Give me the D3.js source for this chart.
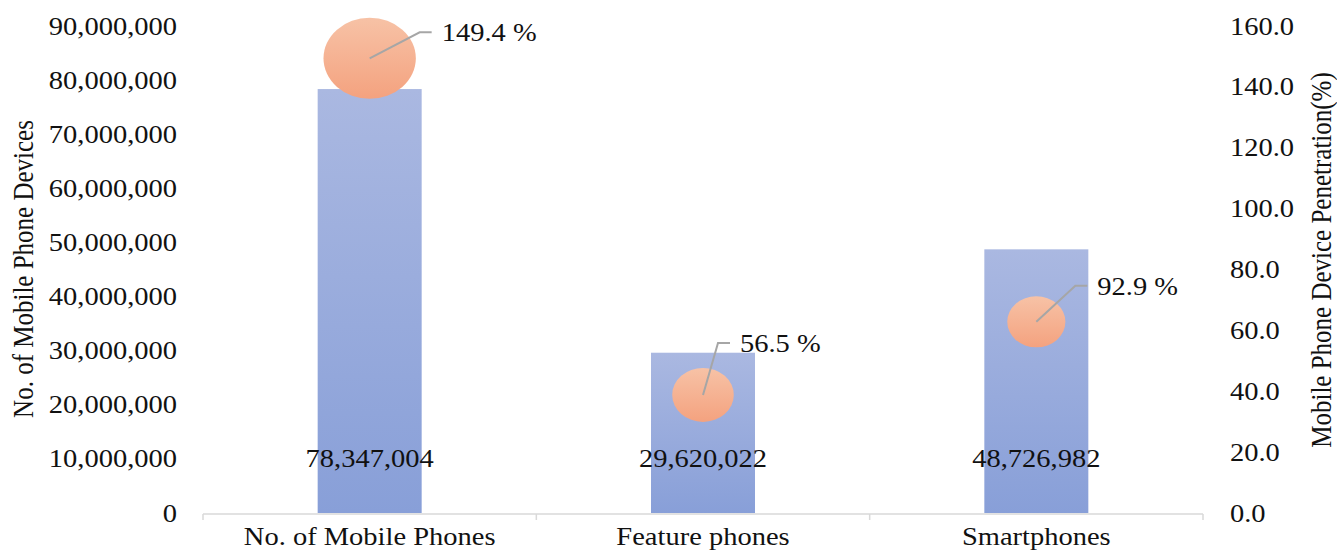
<!DOCTYPE html>
<html>
<head>
<meta charset="utf-8">
<script src="https://cdn.jsdelivr.net/npm/d3@7"></script>
<style>
  html, body { margin: 0; padding: 0; background: #fff; }
  svg { display: block; }
  text { font-family: "Liberation Serif", "Times New Roman", serif; fill: #111; }
</style>
</head>
<body>
<svg id="chart" width="1337" height="552"></svg>
<script>
// ---- data ----
const categories = ["No. of Mobile Phones", "Feature phones", "Smartphones"];
const deviceCounts = [78347004, 29620022, 48726982];
const penetrationLabels = [149.4, 56.5, 92.9];
const bubbleY = [149.4, 38.8, 62.8];          // bubble position on the right axis
const bubbleSize = [149.4, 66.4, 59.2];       // relative bubble size
const leftTicks = [0, 10e6, 20e6, 30e6, 40e6, 50e6, 60e6, 70e6, 80e6, 90e6];
const rightTicks = [0, 20, 40, 60, 80, 100, 120, 140, 160];

// ---- layout ----
const SX = 1.14;               // horizontal stretch of the original picture
const fontSize = 25;
const plotLeft = 203, plotRight = 1203, plotTop = 26, plotBottom = 513;
const labelElbows = [[50, -26], [15, -52], [39, -36]];

const svg = d3.select("#chart");
const defs = svg.append("defs");

const barGrad = defs.append("linearGradient").attr("id", "barGrad")
  .attr("x1", 0).attr("y1", 0).attr("x2", 0).attr("y2", 1);
barGrad.append("stop").attr("offset", "0%").attr("stop-color", "#aab8e1");
barGrad.append("stop").attr("offset", "100%").attr("stop-color", "#889fd8");

const bubGrad = defs.append("linearGradient").attr("id", "bubGrad")
  .attr("x1", 0).attr("y1", 0).attr("x2", 0).attr("y2", 1);
bubGrad.append("stop").attr("offset", "0%").attr("stop-color", "#f7c2a6");
bubGrad.append("stop").attr("offset", "100%").attr("stop-color", "#f4a27f");

const x = d3.scaleBand().domain(categories).range([plotLeft, plotRight])
  .paddingInner(0.688).paddingOuter(0.344);
const yL = d3.scaleLinear().domain([0, 90e6]).range([plotBottom, plotTop]);
const yR = d3.scaleLinear().domain([0, 160]).range([plotBottom, plotTop]);
const rScale = d3.scaleSqrt().domain([0, 149.4]).range([0, 40.5]);

// left axis
const gL = svg.append("g").attr("transform", `translate(177,0)`)
  .call(d3.axisLeft(yL).tickValues(leftTicks).tickFormat(d3.format(",")).tickSize(0).tickPadding(0));
gL.select(".domain").remove();
gL.selectAll("text").attr("x", 0).attr("font-size", fontSize)
  .attr("font-family", '"Liberation Serif", "Times New Roman", serif')
  .attr("fill", "#111").attr("transform", `scale(${SX},1)`);

// right axis
const gR = svg.append("g").attr("transform", `translate(1230,0)`)
  .call(d3.axisRight(yR).tickValues(rightTicks).tickFormat(d3.format(".1f")).tickSize(0).tickPadding(0));
gR.select(".domain").remove();
gR.selectAll("text").attr("x", 0).attr("font-size", fontSize)
  .attr("font-family", '"Liberation Serif", "Times New Roman", serif')
  .attr("fill", "#111").attr("transform", `scale(${SX},1)`);

// bars
svg.append("g").selectAll("rect").data(categories).join("rect")
  .attr("x", d => x(d))
  .attr("width", x.bandwidth())
  .attr("y", (d, i) => yL(deviceCounts[i]))
  .attr("height", (d, i) => yL(0) - yL(deviceCounts[i]))
  .attr("fill", "url(#barGrad)");

// x axis line and ticks
const xAxisG = svg.append("g");
xAxisG.append("line").attr("x1", plotLeft).attr("x2", plotRight)
  .attr("y1", plotBottom + 1).attr("y2", plotBottom + 1)
  .attr("stroke", "#d9d9d9").attr("stroke-width", 1.5);
const boundaries = [plotLeft].concat(categories.map(c => x(c) - x.step() * x.paddingInner() / 2 + x.step()));
xAxisG.selectAll("line.tick").data(boundaries).join("line").attr("class", "tick")
  .attr("x1", d => d).attr("x2", d => d)
  .attr("y1", plotBottom + 1).attr("y2", plotBottom + 7)
  .attr("stroke", "#d9d9d9").attr("stroke-width", 1.5);

// category labels
svg.append("g").selectAll("text").data(categories).join("text")
  .attr("transform", d => `translate(${x(d) + x.bandwidth() / 2},545) scale(${SX},1)`)
  .attr("text-anchor", "middle").attr("font-size", fontSize)
  .text(d => d);

// bar value labels (inside base)
svg.append("g").selectAll("text").data(categories).join("text")
  .attr("transform", d => `translate(${x(d) + x.bandwidth() / 2},${yL(0) - 46}) scale(${SX},1)`)
  .attr("text-anchor", "middle").attr("font-size", fontSize)
  .text((d, i) => d3.format(",")(deviceCounts[i]));

// bubbles
const cx = i => x(categories[i]) + x.bandwidth() / 2;
svg.append("g").selectAll("ellipse").data(categories).join("ellipse")
  .attr("cx", (d, i) => cx(i))
  .attr("cy", (d, i) => yR(bubbleY[i]))
  .attr("rx", (d, i) => rScale(bubbleSize[i]) * SX)
  .attr("ry", (d, i) => rScale(bubbleSize[i]))
  .attr("fill", "url(#bubGrad)");

// leader lines and penetration labels
const lg = svg.append("g");
categories.forEach((c, i) => {
  const x0 = cx(i), y0 = yR(bubbleY[i]);
  const ex = x0 + labelElbows[i][0], ey = y0 + labelElbows[i][1];
  lg.append("polyline")
    .attr("points", `${x0},${y0} ${ex},${ey} ${ex + 12},${ey}`)
    .attr("fill", "none").attr("stroke", "#a6a6a6").attr("stroke-width", 2);
  lg.append("text")
    .attr("transform", `translate(${ex + 22},${ey + 9}) scale(${SX},1)`)
    .attr("font-size", fontSize)
    .text(d3.format(".1f")(penetrationLabels[i]) + " %");
});

// axis titles
svg.append("text")
  .attr("transform", `translate(33,269) scale(${SX},1) rotate(-90)`)
  .attr("text-anchor", "middle").attr("font-size", fontSize)
  .text("No. of Mobile Phone Devices");
svg.append("text")
  .attr("transform", `translate(1331,260) scale(${SX},1) rotate(-90)`)
  .attr("text-anchor", "middle").attr("font-size", fontSize)
  .text("Mobile Phone Device Penetration(%)");
</script>
</body>
</html>
